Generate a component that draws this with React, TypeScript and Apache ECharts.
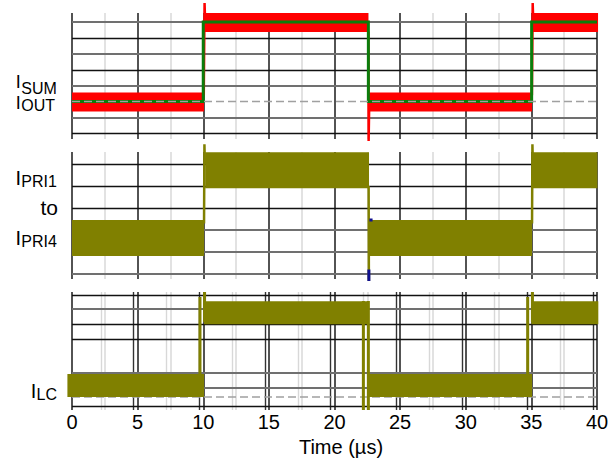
import React, { useEffect, useRef } from 'react';
import * as echarts from 'echarts';

// ---------- data (time in µs, amplitudes in grid divisions) ----------
const timeLabels = [0, 5, 10, 15, 20, 25, 30, 35, 40];

// Panel 1 : I_SUM (red ripple band) and I_OUT (green)
const isumBand: (number | null)[][] = [
  [0, -0.02], [10.06, -0.02], [10.06, null],
  [10.1, 4.97], [22.58, 4.97], [22.58, null],
  [22.62, -0.03], [35.05, -0.03], [35.05, null],
  [35.08, 4.97], [40.08, 4.97],
];
const isumSpikes: (number | null)[][] = [
  [10.04, 0.4], [10.1, 6.2], [10.16, 4.6], [10.16, null],
  [22.58, 4.4], [22.6, -2.47], [22.64, -0.4], [22.64, null],
  [35.04, 0.4], [35.1, 6.2], [35.16, 4.6],
];
const ioutStep: number[][] = [
  [0, 0], [10.0, 0], [10.0, 5], [22.58, 5], [22.58, 0], [35.02, 0], [35.02, 5], [40, 5],
];
const panel1Zero: number[][] = [[0, 0], [40.7, 0]];
const panel1Levels = [5, 4, 3, 2, 1, -1, -2];
const panel1Tones = ['g', 'k', 'g', 'k', 'g', 'g', 'k'];

// Panel 2 : I_PRI1 .. I_PRI4 (olive band)
const ipriBand: (number | null)[][] = [
  [0, 1.64], [10.06, 1.64], [10.06, null],
  [10.15, 4.72], [22.63, 4.72], [22.63, null],
  [22.63, 1.64], [35.05, 1.64], [35.05, null],
  [35.1, 4.72], [40.03, 4.72],
];
const ipriSpikes: (number | null)[][] = [
  [10.06, 2.3], [10.09, 5.9], [10.12, 5.0], [10.12, null],
  [22.6, 4.0], [22.62, -0.32], [22.62, null],
  [35.05, 2.3], [35.08, 5.9], [35.11, 5.0],
];
const ipriBlue: (number | null)[][] = [
  [22.62, 0.2], [22.62, -0.32], [22.62, null],
  [22.66, 2.45], [22.9, 2.45],
];
const panel2Levels = [5, 4, 3, 2, 1, 0];
const panel2Tones = ['k', 'k', 'k', 'g', 'g', 'g'];

// Panel 3 : I_LC (olive band)
const ilcBand: (number | null)[][] = [
  [-0.35, 0.77], [10.06, 0.77], [10.06, null],
  [10.06, 5.62], [22.63, 5.62], [22.63, null],
  [22.63, 0.77], [35.05, 0.77], [35.05, null],
  [35.0, 5.62], [40.1, 5.62],
];
const ilcSpikes: (number | null)[][] = [
  [9.75, 1.5], [9.75, 6.67], [9.75, null],
  [10.1, 5.0], [10.1, 7.0], [10.1, null],
  [22.2, 6.4], [22.2, -0.87], [22.2, null],
  [22.58, 6.4], [22.58, -0.87], [22.58, null],
  [34.72, 1.5], [34.72, 6.67], [34.72, null],
  [35.08, 5.0], [35.08, 7.0],
];
const panel3Zero: number[][] = [[0, 0], [40.8, 0]];
const panel3Levels = [6.8, 5.87, 4.87, 3.87, 1.6, 0.6, -0.6];
const panel3Tones = ['k', 'g', 'k', 'k', 'g', 'g', 'k'];

// ---------- styling ----------
const FONT = '"Liberation Sans", Arial, Helvetica, sans-serif';
const RED = '#ff0000';
const GREEN = '#0b7d0b';
const OLIVE = '#808000';
const BLUE = '#101090';
const toneStyle: Record<string, { color: string; width: number }> = {
  k: { color: '#111111', width: 1.3 },
  g: { color: '#707070', width: 1.8 },
};

function levelLines(levels: number[], tones: string[]) {
  return {
    silent: true,
    symbol: 'none',
    z: 1,
    label: { show: false },
    emphasis: { disabled: true },
    data: levels.map((v, i) => ({
      yAxis: v,
      lineStyle: { type: 'solid', color: toneStyle[tones[i]].color, width: toneStyle[tones[i]].width },
    })),
  };
}

function lineSeries(data: any, gi: number, color: string, width: number, extra: any = {}) {
  return {
    type: 'line',
    xAxisIndex: gi,
    yAxisIndex: gi,
    data,
    showSymbol: false,
    symbol: 'none',
    clip: false,
    silent: true,
    connectNulls: false,
    lineStyle: { color, width, cap: 'butt', join: 'miter' },
    z: 2,
    ...extra,
  };
}

function mainX(gi: number, labels: boolean) {
  return {
    type: 'value',
    gridIndex: gi,
    min: 0,
    max: 40,
    interval: 2.5,
    axisLine: { show: false },
    axisTick: { show: false },
    axisLabel: labels
      ? {
          show: true,
          margin: 2,
          fontSize: 20,
          color: '#000',
          fontFamily: FONT,
          formatter: (v: number) => (timeLabels.includes(v) ? String(v) : ''),
        }
      : { show: false },
    name: labels ? 'Time (µs)' : '',
    nameLocation: 'middle',
    nameGap: 27,
    nameTextStyle: { fontSize: 20, color: '#000', fontFamily: FONT, padding: [0, 0, 0, 13] },
    splitLine: { show: true, lineStyle: { color: ['#1a1a1a', '#d8d8d8'], width: 1.5 } },
  };
}

function ghostX(min: number, color: string) {
  return {
    type: 'value',
    gridIndex: 2,
    min,
    max: min + 40,
    minInterval: 5,
    maxInterval: 5,
    axisLine: { show: false },
    axisTick: { show: false },
    axisLabel: { show: false },
    splitLine: { show: true, showMinLine: false, showMaxLine: false, lineStyle: { color, width: 1.4 } },
  };
}

function label(text: string, x: number, y: number, size: number, align = 'left') {
  return {
    type: 'text',
    x,
    y,
    silent: true,
    style: {
      text,
      fontSize: size,
      lineHeight: Math.round(size * 0.8),
      fontFamily: FONT,
      fill: '#000',
      align,
      verticalAlign: 'middle',
    },
  };
}

const option: any = {
  animation: false,
  grid: [
    { left: 72, right: 19, top: 13, height: 126 },
    { left: 72, right: 19, top: 152, height: 127 },
    { left: 72, right: 19, top: 292, height: 118 },
  ],
  xAxis: [mainX(0, false), mainX(1, false), mainX(2, true), ghostX(0.3, '#333333'), ghostX(-2.2, '#d8d8d8')],
  yAxis: [
    { type: 'value', gridIndex: 0, min: -2.35, max: 5.57, show: false },
    { type: 'value', gridIndex: 1, min: -0.227, max: 5.545, show: false },
    { type: 'value', gridIndex: 2, min: -0.867, max: 7, show: false },
  ],
  series: [
    // panel 1
    lineSeries(isumBand, 0, RED, 19, { markLine: levelLines(panel1Levels, panel1Tones) }),
    lineSeries(isumSpikes, 0, RED, 2.5),
    lineSeries(ioutStep, 0, GREEN, 3),
    lineSeries(panel1Zero, 0, '#a0a0a0', 1.5, { lineStyle: { color: '#a0a0a0', width: 1.5, type: [8, 4] } }),
    // panel 2
    lineSeries(ipriBand, 1, OLIVE, 36, { markLine: levelLines(panel2Levels, panel2Tones) }),
    lineSeries(ipriSpikes, 1, OLIVE, 2.5),
    lineSeries(ipriBlue, 1, BLUE, 3),
    // panel 3
    lineSeries(panel3Zero, 2, '#a0a0a0', 1.5, {
      lineStyle: { color: '#a0a0a0', width: 1.5, type: [8, 4] },
      markLine: levelLines(panel3Levels, panel3Tones),
    }),
    lineSeries(ilcBand, 2, OLIVE, 23),
    lineSeries(ilcSpikes, 2, OLIVE, 3),
  ],
  graphic: [
    label('I', 15.8, 81.8, 18),
    label('SUM', 21.3, 88.8, 16),
    label('I', 15.8, 102.8, 18),
    label('OUT', 21.3, 105.6, 16),
    label('I', 15.5, 178.2, 20),
    label('PRI1', 21.3, 181.7, 16),
    label('to', 58, 207, 21, 'right'),
    label('I', 30.8, 391, 20),
    label('LC', 36.5, 394, 16),
    label('I', 15.5, 238.3, 20),
    label('PRI4', 21.3, 241.7, 16),
  ],
};

export default function App() {
  const ref = useRef<HTMLDivElement>(null);
  useEffect(() => {
    const chart = echarts.init(ref.current as HTMLDivElement, null, { renderer: 'svg' });
    chart.setOption(option);
    return () => chart.dispose();
  }, []);
  return (
    <div
      ref={ref}
      style={{ position: 'fixed', left: 0, top: 0, width: 616, height: 466, background: '#fff' }}
    />
  );
}
